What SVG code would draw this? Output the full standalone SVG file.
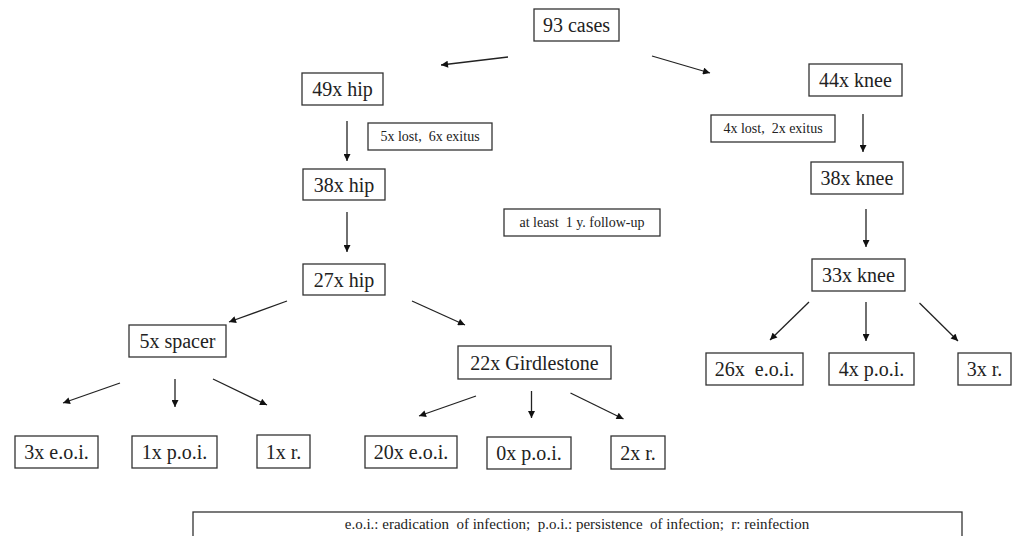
<svg xmlns="http://www.w3.org/2000/svg" width="1015" height="536" viewBox="0 0 1015 536">
<style>
.b{fill:#fff;stroke:#333;stroke-width:1.3}
.t{font-family:'Liberation Serif','DejaVu Serif',serif;font-size:20px;fill:#222;text-anchor:middle}
.s{font-family:'Liberation Serif','DejaVu Serif',serif;font-size:14px;fill:#222;text-anchor:middle}
.l{font-size:15px}
.c line{stroke:#222;stroke-width:1.3;marker-end:url(#ah)}
</style>
<defs>
<marker id="ah" viewBox="0 0 10 10" refX="10" refY="5" markerWidth="8" markerHeight="7" markerUnits="userSpaceOnUse" orient="auto">
<path d="M0,0 L10,5 L0,10 z" fill="#111"/>
</marker>
</defs>
<rect width="1015" height="536" fill="#fff"/>
<g class="c" id="connectors">
<line x1="508" y1="57" x2="441" y2="65"/>
<line x1="652" y1="56" x2="710" y2="73"/>
<line x1="347" y1="121" x2="347" y2="161"/>
<line x1="347" y1="212" x2="347" y2="252"/>
<line x1="863" y1="114" x2="863" y2="152"/>
<line x1="866" y1="209" x2="866" y2="247"/>
<line x1="287" y1="301" x2="229" y2="322"/>
<line x1="412" y1="301" x2="465" y2="325"/>
<line x1="120" y1="383" x2="63" y2="403"/>
<line x1="175" y1="379" x2="175" y2="407"/>
<line x1="213" y1="379" x2="267" y2="405"/>
<line x1="476" y1="396" x2="419" y2="416"/>
<line x1="531.5" y1="391" x2="531.5" y2="418"/>
<line x1="570.5" y1="393" x2="623.5" y2="419"/>
<line x1="809" y1="302" x2="770" y2="340"/>
<line x1="866" y1="302" x2="866" y2="341"/>
<line x1="919.5" y1="303" x2="958" y2="341"/>
</g>
<g id="n93"><rect class="b" x="534" y="9" width="85" height="32"/><text class="t" x="576.5" y="32">93 cases</text></g>
<g id="hip49"><rect class="b" x="302" y="73" width="81" height="32"/><text class="t" x="342.5" y="96">49x hip</text></g>
<g id="knee44"><rect class="b" x="809" y="64" width="93" height="32"/><text class="t" x="855.5" y="87">44x knee</text></g>
<g id="losthip"><rect class="b" x="368" y="123" width="124" height="27"/><text class="s" x="430" y="141" xml:space="preserve">5x lost,  6x exitus</text></g>
<g id="hip38"><rect class="b" x="303" y="169" width="82" height="31"/><text class="t" x="344" y="191.5">38x hip</text></g>
<g id="followup"><rect class="b" x="504" y="209" width="156" height="27"/><text class="s" x="582" y="227" xml:space="preserve">at least  1 y. follow-up</text></g>
<g id="lostknee"><rect class="b" x="711" y="115" width="124" height="27"/><text class="s" x="773" y="133" xml:space="preserve">4x lost,  2x exitus</text></g>
<g id="knee38"><rect class="b" x="811" y="162" width="92" height="32"/><text class="t" x="857" y="185">38x knee</text></g>
<g id="hip27"><rect class="b" x="303" y="264" width="82" height="31"/><text class="t" x="344" y="286.5">27x hip</text></g>
<g id="knee33"><rect class="b" x="812" y="259" width="93" height="32"/><text class="t" x="858.5" y="282">33x knee</text></g>
<g id="spacer"><rect class="b" x="129" y="325" width="97" height="32"/><text class="t" x="177.5" y="348">5x spacer</text></g>
<g id="girdlestone"><rect class="b" x="458" y="346" width="153" height="33"/><text class="t" x="534.5" y="369.5">22x Girdlestone</text></g>
<g id="s_eoi"><rect class="b" x="15" y="436" width="83" height="32"/><text class="t" x="56.5" y="459">3x e.o.i.</text></g>
<g id="s_poi"><rect class="b" x="132" y="436" width="85" height="32"/><text class="t" x="174.5" y="459">1x p.o.i.</text></g>
<g id="s_r"><rect class="b" x="257" y="435" width="53" height="33"/><text class="t" x="283.5" y="458.5">1x r.</text></g>
<g id="g_eoi"><rect class="b" x="365" y="436" width="92" height="32"/><text class="t" x="411" y="459">20x e.o.i.</text></g>
<g id="g_poi"><rect class="b" x="487" y="437" width="84" height="32"/><text class="t" x="529" y="460">0x p.o.i.</text></g>
<g id="g_r"><rect class="b" x="611" y="436" width="54" height="33"/><text class="t" x="638" y="459.5">2x r.</text></g>
<g id="k_eoi"><rect class="b" x="706" y="353" width="97" height="32"/><text class="t" x="754.5" y="376" xml:space="preserve">26x  e.o.i.</text></g>
<g id="k_poi"><rect class="b" x="829" y="353" width="85" height="32"/><text class="t" x="871.5" y="376">4x p.o.i.</text></g>
<g id="k_r"><rect class="b" x="958" y="353" width="53" height="32"/><text class="t" x="984.5" y="376">3x r.</text></g>
<g id="legend"><rect class="b" x="193" y="512" width="769" height="40"/><text class="s l" x="577" y="528.5" xml:space="preserve">e.o.i.: eradication  of infection;  p.o.i.: persistence  of infection;  r: reinfection</text></g>
</svg>
